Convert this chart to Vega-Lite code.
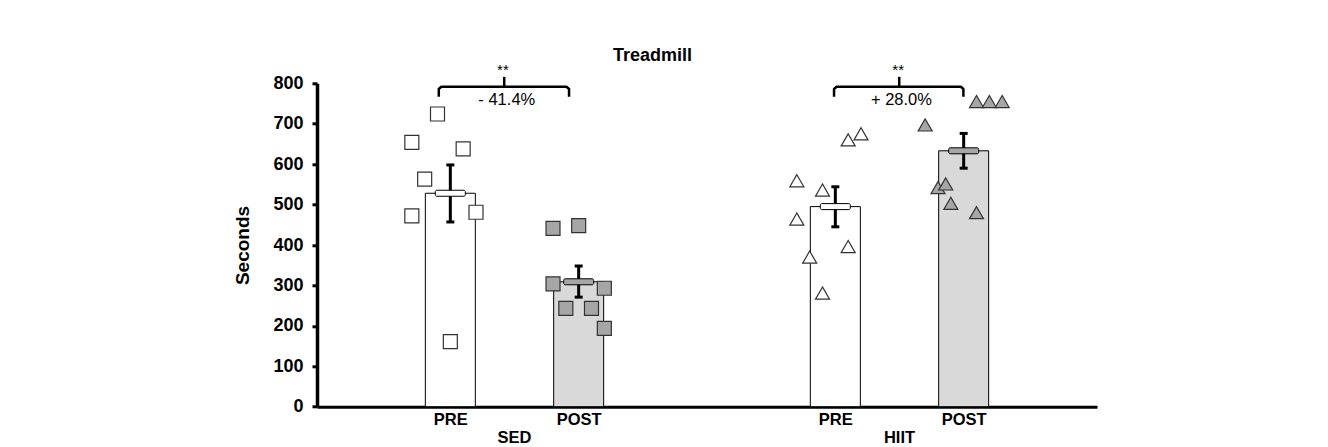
{
  "$schema": "https://vega.github.io/schema/vega-lite/v6.json",
  "width": 780,
  "height": 323.4,
  "autosize": {"type": "none"},
  "padding": {"left": 317, "top": 83.3, "right": 231, "bottom": 40.3},
  "background": "white",
  "title": {"text": "Treadmill", "font": "Liberation Sans", "fontSize": 18, "fontWeight": "bold", "color": "black", "frame": "group", "anchor": "middle", "dx": -54.5, "offset": -2},
  "config": {"view": {"stroke": null}, "font": "Liberation Sans"},
  "datasets": {
    "bars": [
      {"group": "SED", "phase": "PRE", "x": 1, "mean": 528, "lo": 457, "hi": 598},
      {"group": "SED", "phase": "POST", "x": 2, "mean": 309, "lo": 271, "hi": 348},
      {"group": "HIIT", "phase": "PRE", "x": 4, "mean": 495, "lo": 445, "hi": 544},
      {"group": "HIIT", "phase": "POST", "x": 5, "mean": 633, "lo": 590, "hi": 676}
    ],
    "points": [
      {"group": "SED", "phase": "PRE", "x": 0.9, "y": 724},
      {"group": "SED", "phase": "PRE", "x": 0.7, "y": 654},
      {"group": "SED", "phase": "PRE", "x": 1.1, "y": 638},
      {"group": "SED", "phase": "PRE", "x": 0.8, "y": 563},
      {"group": "SED", "phase": "PRE", "x": 0.7, "y": 472},
      {"group": "SED", "phase": "PRE", "x": 1.2, "y": 481},
      {"group": "SED", "phase": "PRE", "x": 1.0, "y": 161},
      {"group": "SED", "phase": "POST", "x": 1.8, "y": 441},
      {"group": "SED", "phase": "POST", "x": 2.0, "y": 448},
      {"group": "SED", "phase": "POST", "x": 1.8, "y": 304},
      {"group": "SED", "phase": "POST", "x": 2.2, "y": 293},
      {"group": "SED", "phase": "POST", "x": 1.9, "y": 243},
      {"group": "SED", "phase": "POST", "x": 2.1, "y": 243},
      {"group": "SED", "phase": "POST", "x": 2.2, "y": 194},
      {"group": "HIIT", "phase": "PRE", "x": 3.7, "y": 559},
      {"group": "HIIT", "phase": "PRE", "x": 3.9, "y": 536},
      {"group": "HIIT", "phase": "PRE", "x": 3.7, "y": 464},
      {"group": "HIIT", "phase": "PRE", "x": 4.1, "y": 660},
      {"group": "HIIT", "phase": "PRE", "x": 4.2, "y": 675},
      {"group": "HIIT", "phase": "PRE", "x": 4.1, "y": 396},
      {"group": "HIIT", "phase": "PRE", "x": 3.8, "y": 370},
      {"group": "HIIT", "phase": "PRE", "x": 3.9, "y": 281},
      {"group": "HIIT", "phase": "POST", "x": 4.7, "y": 697},
      {"group": "HIIT", "phase": "POST", "x": 5.1, "y": 755},
      {"group": "HIIT", "phase": "POST", "x": 5.2, "y": 755},
      {"group": "HIIT", "phase": "POST", "x": 5.3, "y": 755},
      {"group": "HIIT", "phase": "POST", "x": 4.8, "y": 542},
      {"group": "HIIT", "phase": "POST", "x": 4.86, "y": 551},
      {"group": "HIIT", "phase": "POST", "x": 4.9, "y": 503},
      {"group": "HIIT", "phase": "POST", "x": 5.1, "y": 480}
    ],
    "bracket": [
      {"group": "SED", "i": 1, "x": 0.91, "y": 767},
      {"group": "SED", "i": 2, "x": 0.91, "y": 786},
      {"group": "SED", "i": 3, "x": 0.93, "y": 791.6},
      {"group": "SED", "i": 4, "x": 1.905, "y": 791.6},
      {"group": "SED", "i": 5, "x": 1.925, "y": 786},
      {"group": "SED", "i": 6, "x": 1.925, "y": 767},
      {"group": "HIIT", "i": 1, "x": 3.99, "y": 767},
      {"group": "HIIT", "i": 2, "x": 3.99, "y": 786},
      {"group": "HIIT", "i": 3, "x": 4.01, "y": 791.6},
      {"group": "HIIT", "i": 4, "x": 4.978, "y": 791.6},
      {"group": "HIIT", "i": 5, "x": 4.998, "y": 786},
      {"group": "HIIT", "i": 6, "x": 4.998, "y": 767}
    ],
    "annot": [
      {"group": "SED", "xc": 1.42, "xt": 1.44, "xs": 1.41, "pct": "- 41.4%", "stars": "**", "glabel": 1.5},
      {"group": "HIIT", "xc": 4.498, "xt": 4.515, "xs": 4.49, "pct": "+ 28.0%", "stars": "**", "glabel": 4.5}
    ]
  },
  "resolve": {"scale": {"fill": "independent"}},
  "layer": [
    {
      "data": {"name": "bars"},
      "mark": {"type": "bar", "orient": "vertical", "size": 50, "stroke": "black", "strokeWidth": 1},
      "encoding": {
        "x": {"field": "x", "type": "quantitative", "title": null, "scale": {"domain": [0, 6], "nice": false, "zero": false},
          "axis": {"values": [1, 2, 4, 5], "labelExpr": "datum.value == 1 || datum.value == 4 ? 'PRE' : 'POST'", "ticks": false, "grid": false, "domainColor": "black", "domainWidth": 3, "labelFont": "Liberation Sans", "labelFontSize": 16.5, "labelFontWeight": "bold", "labelColor": "black", "labelPadding": 5}},
        "y": {"field": "mean", "type": "quantitative", "title": "Seconds", "scale": {"domain": [0, 800], "nice": false},
          "axis": {"values": [0, 100, 200, 300, 400, 500, 600, 700, 800], "grid": false, "domainColor": "black", "domainWidth": 3.5, "tickColor": "black", "tickWidth": 3, "tickSize": 5, "labelFont": "Liberation Sans", "labelFontSize": 18, "labelFontWeight": "bold", "labelColor": "black", "labelPadding": 9, "titleFont": "Liberation Sans", "titleFontSize": 19, "titleFontWeight": "bold", "titleColor": "black", "titlePadding": 20}},
        "fill": {"field": "phase", "type": "nominal", "scale": {"domain": ["PRE", "POST"], "range": ["white", "#d9d9d9"]}, "legend": null}
      }
    },
    {
      "data": {"name": "points"},
      "mark": {"type": "point", "filled": true, "stroke": "#333333", "strokeWidth": 1.2, "size": 196, "opacity": 1},
      "encoding": {
        "x": {"field": "x", "type": "quantitative", "title": null},
        "y": {"field": "y", "type": "quantitative", "title": "Seconds"},
        "shape": {"field": "group", "type": "nominal", "scale": {"domain": ["SED", "HIIT"], "range": ["square", "triangle-up"]}, "legend": null},
        "fill": {"field": "phase", "type": "nominal", "scale": {"domain": ["PRE", "POST"], "range": ["white", "#a6a6a6"]}, "legend": null}
      }
    },
    {
      "data": {"name": "bars"},
      "mark": {"type": "rule", "color": "black", "strokeWidth": 3},
      "encoding": {
        "x": {"field": "x", "type": "quantitative", "title": null},
        "y": {"field": "lo", "type": "quantitative", "title": "Seconds"},
        "y2": {"field": "hi"}
      }
    },
    {
      "data": {"name": "bars"},
      "mark": {"type": "tick", "orient": "horizontal", "color": "black", "size": 8, "thickness": 3, "opacity": 1},
      "encoding": {
        "x": {"field": "x", "type": "quantitative", "title": null},
        "y": {"field": "lo", "type": "quantitative", "title": "Seconds"}
      }
    },
    {
      "data": {"name": "bars"},
      "mark": {"type": "tick", "orient": "horizontal", "color": "black", "size": 8, "thickness": 3, "opacity": 1},
      "encoding": {
        "x": {"field": "x", "type": "quantitative", "title": null},
        "y": {"field": "hi", "type": "quantitative", "title": "Seconds"}
      }
    },
    {
      "data": {"name": "bars"},
      "mark": {"type": "tick", "orient": "horizontal", "size": 30, "thickness": 6, "stroke": "black", "strokeWidth": 1, "opacity": 1, "cornerRadius": 1.5},
      "encoding": {
        "x": {"field": "x", "type": "quantitative", "title": null},
        "y": {"field": "mean", "type": "quantitative", "title": "Seconds"},
        "fill": {"field": "phase", "type": "nominal", "scale": {"domain": ["PRE", "POST"], "range": ["white", "#a6a6a6"]}, "legend": null}
      }
    },
    {
      "data": {"name": "bracket"},
      "mark": {"type": "line", "color": "black", "strokeWidth": 2.5, "strokeJoin": "round", "clip": false},
      "encoding": {
        "x": {"field": "x", "type": "quantitative", "title": null},
        "y": {"field": "y", "type": "quantitative", "title": "Seconds"},
        "detail": {"field": "group"},
        "order": {"field": "i", "type": "quantitative"}
      }
    },
    {
      "data": {"name": "annot"},
      "mark": {"type": "rule", "color": "black", "strokeWidth": 2.5},
      "encoding": {
        "x": {"field": "xc", "type": "quantitative", "title": null},
        "y": {"datum": 791.6, "type": "quantitative", "title": "Seconds"},
        "y2": {"datum": 816}
      }
    },
    {
      "data": {"name": "annot"},
      "mark": {"type": "text", "font": "Liberation Sans", "fontSize": 16.5, "color": "black", "baseline": "middle"},
      "encoding": {
        "x": {"field": "xt", "type": "quantitative", "title": null},
        "y": {"datum": 759, "type": "quantitative", "title": "Seconds"},
        "text": {"field": "pct"}
      }
    },
    {
      "data": {"name": "annot"},
      "mark": {"type": "text", "font": "Liberation Sans", "fontSize": 15, "color": "black", "baseline": "middle"},
      "encoding": {
        "x": {"field": "xs", "type": "quantitative", "title": null},
        "y": {"datum": 834, "type": "quantitative", "title": "Seconds"},
        "text": {"field": "stars"}
      }
    },
    {
      "data": {"name": "annot"},
      "mark": {"type": "text", "font": "Liberation Sans", "fontSize": 16.5, "fontWeight": "bold", "color": "black", "baseline": "middle"},
      "encoding": {
        "x": {"field": "glabel", "type": "quantitative", "title": null},
        "y": {"datum": -77, "type": "quantitative", "title": "Seconds"},
        "text": {"field": "group"}
      }
    }
  ]
}
